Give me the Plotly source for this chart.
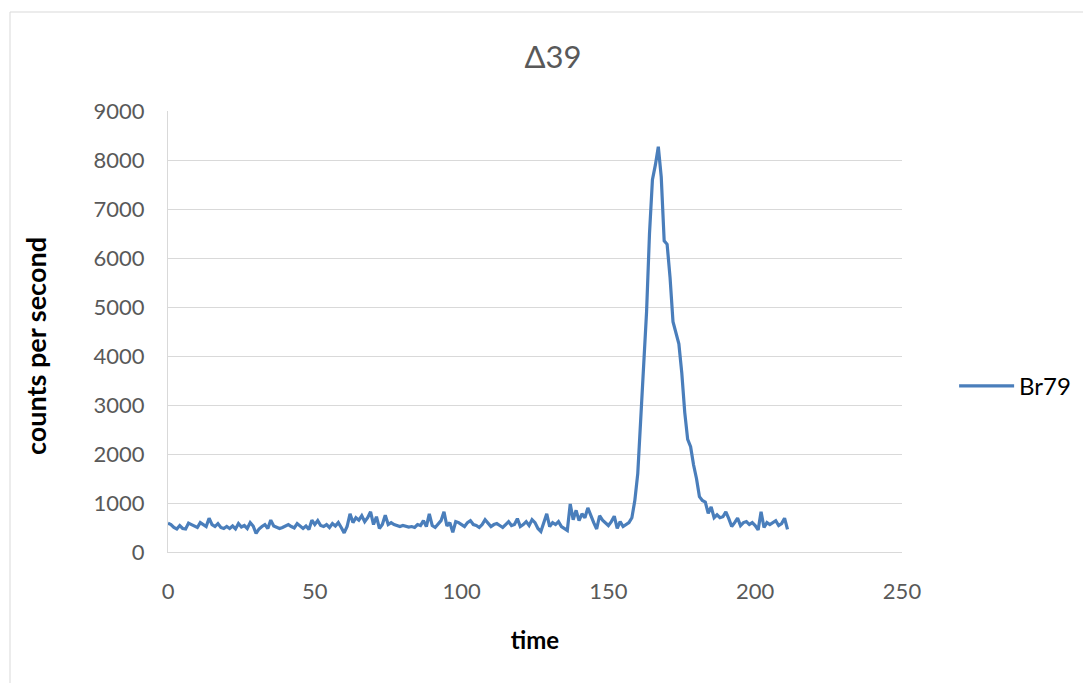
import plotly.graph_objects as go

# Br79 signal, one reading per second
time = list(range(0, 212))
br79 = [
    585, 560, 500, 470, 540, 480, 470, 590, 560, 530,
    500, 600, 560, 520, 690, 560, 520, 580, 500, 480,
    520, 480, 530, 470, 580, 510, 540, 480, 600, 530,
    380, 470, 520, 560, 480, 650, 530, 510, 480, 500,
    530, 560, 520, 490, 580, 520, 480, 530, 460, 650,
    560, 640, 540, 520, 560, 500, 580, 530, 600, 500,
    390, 520, 780, 600, 700, 650, 740, 620, 700, 820,
    560, 720, 480, 560, 750, 560, 600, 560, 540, 520,
    540, 520, 510, 520, 500, 560, 540, 640, 520, 780,
    540, 500, 580, 640, 820, 530, 600, 400, 620, 600,
    560, 520, 600, 640, 560, 540, 500, 560, 660, 600,
    520, 560, 580, 540, 500, 560, 620, 540, 560, 680,
    520, 560, 620, 540, 660, 600, 480, 420, 620, 780,
    520, 600, 560, 620, 520, 480, 440, 980, 660, 850,
    640, 780, 700, 900, 740, 600, 470, 740, 650, 600,
    540, 620, 730, 480, 620, 520, 560, 600, 700, 1050,
    1600, 2700, 3900, 4900, 6500, 7600, 7900, 8270, 7650, 6350,
    6280, 5600, 4700, 4450, 4250, 3650, 2850, 2300, 2150, 1780,
    1500, 1130, 1050, 1020, 790, 920, 700, 760, 700, 720,
    820, 680, 520, 600, 690, 540, 600, 620, 560, 600,
    540, 450, 820, 500, 600, 560, 600, 640, 540, 580,
    690, 460,
]

x_ticks = [0, 50, 100, 150, 200, 250]
y_ticks = [0, 1000, 2000, 3000, 4000, 5000, 6000, 7000, 8000, 9000]

FONT = "Lato"
GREY = "#595959"
GRID = "#d9d9d9"

fig = go.Figure()
fig.add_trace(go.Scatter(
    x=time, y=br79, mode="lines", name="Br79",
    line=dict(color="#4a7ebb", width=3.2),
))

fig.update_layout(
    width=1083, height=683,
    margin=dict(l=168, r=181, t=111, b=131, autoexpand=False),
    paper_bgcolor="white", plot_bgcolor="white",
    font=dict(family=FONT, color=GREY, size=22),
    title=dict(text="Δ39", x=(553 - 168) / 734, xanchor="center", xref="paper",
               y=1 - 57 / 683, yanchor="middle",
               font=dict(size=31, color=GREY, family=FONT)),
    showlegend=True,
    legend=dict(x=1.071, y=0.376, xanchor="left", yanchor="middle",
                itemwidth=55,
                font=dict(size=24, color="#000000", family=FONT),
                bgcolor="rgba(0,0,0,0)"),
    xaxis=dict(
        range=[0, 250], tickvals=x_ticks, showgrid=False,
        showline=True, linecolor=GRID, linewidth=1, zeroline=False,
        ticks="", tickfont=dict(size=22, color=GREY), ticklabelstandoff=20,
        title=dict(text="<b>time</b>", font=dict(size=24, color="#000000", family=FONT),
                   standoff=28),
    ),
    yaxis=dict(
        range=[0, 9000], tickvals=y_ticks, showgrid=True, gridcolor=GRID, gridwidth=1,
        showline=True, linecolor=GRID, linewidth=1, zeroline=False,
        ticks="", tickfont=dict(size=22, color=GREY), ticklabelstandoff=18,
    ),
    annotations=[
        dict(text="<b>counts per second</b>", xref="paper", yref="paper",
             x=(35 - 168) / 734, y=(552 - 346) / 441, xanchor="center", yanchor="middle",
             textangle=-90, showarrow=False,
             font=dict(size=27, color="#000000", family=FONT)),
    ],
    shapes=[
        dict(type="rect", xref="paper", yref="paper",
             x0=(10 - 168) / 734, x1=1.35, y0=-0.4, y1=(552 - 12) / 441,
             line=dict(color=GRID, width=1), fillcolor="rgba(0,0,0,0)", layer="below"),
    ],
)

fig.write_html("out.html")
